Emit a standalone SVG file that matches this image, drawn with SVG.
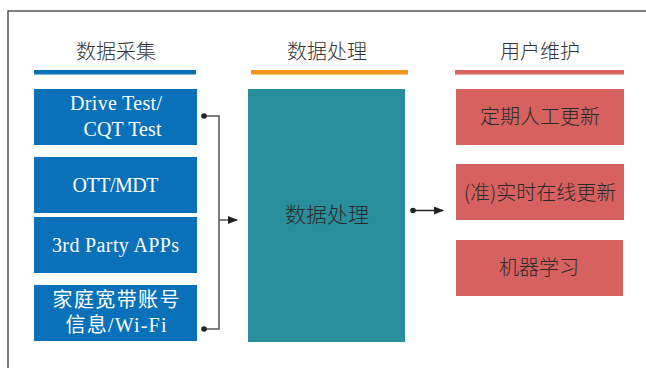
<svg xmlns="http://www.w3.org/2000/svg" width="646" height="368" viewBox="0 0 646 368">
<style>
.hdr{font-family:"Noto Sans CJK SC",sans-serif;font-size:20px;font-weight:300;fill:#333;text-anchor:middle}
.bt{font-family:"Liberation Serif","Noto Sans CJK SC",serif;font-size:20px;fill:#fff;text-anchor:middle}
.ct{font-family:"Liberation Serif","Noto Sans CJK SC",serif;font-size:20px;fill:#fff;text-anchor:middle}
.dt{font-family:"Noto Sans CJK SC",sans-serif;font-size:20px;font-weight:300;fill:#2a2a2a;text-anchor:middle}
.blue{fill:#0871b9}
.red{fill:#d6615f}
.ln{stroke:#555;stroke-width:1.5;fill:none}
.dot{fill:#222}
</style>
<defs>
<marker id="ah" markerWidth="10" markerHeight="8" refX="9" refY="4" orient="auto" markerUnits="userSpaceOnUse">
<path d="M0,0 L10,4 L0,8 Z" fill="#222"/>
</marker>
</defs>
<path d="M8,368 L8,11 L646,11" fill="none" stroke="#555" stroke-width="1.5"/>
<g id="headers">
<text class="hdr" x="116" y="59">数据采集</text>
<rect x="34" y="70" width="162" height="4.5" fill="#0871b9"/>
<text class="hdr" x="327" y="59">数据处理</text>
<rect x="251" y="70" width="157" height="4.5" fill="#f7941d"/>
<text class="hdr" x="540" y="59">用户维护</text>
<rect x="455" y="70" width="169" height="4.5" fill="#d6615f"/>
</g>
<g id="n1"><rect class="blue" x="34" y="89" width="163" height="56"/>
<text class="bt" x="116" y="110" textLength="92" lengthAdjust="spacing">Drive Test/</text>
<text class="bt" x="122.5" y="136" textLength="78" lengthAdjust="spacing">CQT Test</text></g>
<g id="n2"><rect class="blue" x="34" y="157" width="163" height="56"/>
<text class="bt" x="115.5" y="192" textLength="86" lengthAdjust="spacing">OTT/MDT</text></g>
<g id="n3"><rect class="blue" x="34" y="217" width="163" height="56"/>
<text class="bt" x="115.5" y="252" textLength="127" lengthAdjust="spacing">3rd Party APPs</text></g>
<g id="n4"><rect class="blue" x="34" y="285" width="163" height="56"/>
<text class="ct" x="116" y="307" textLength="127" lengthAdjust="spacing">家庭宽带账号</text>
<text class="ct" x="116" y="332" textLength="101" lengthAdjust="spacing">信息/Wi-Fi</text></g>
<g id="n5"><rect x="248" y="89" width="157" height="253" fill="#2a8f9c"/>
<text class="dt" x="327" y="222" style="font-size:21px">数据处理</text></g>
<g id="n6"><rect class="red" x="456" y="89" width="168" height="56"/>
<text class="dt" x="540" y="124">定期人工更新</text></g>
<g id="n7"><rect class="red" x="456" y="164" width="168" height="56"/>
<text class="dt" x="540" y="200">(准)实时在线更新</text></g>
<g id="n8"><rect class="red" x="456" y="240" width="167" height="56"/>
<text class="dt" x="539" y="275">机器学习</text></g>
<g id="connectors">
<path class="ln" d="M204,116 L219,116 L219,329 L204,329"/>
<path class="ln" d="M219,220 L237,220" marker-end="url(#ah)"/>
<circle class="dot" cx="204" cy="116" r="2.8"/>
<circle class="dot" cx="204" cy="329" r="2.8"/>
<path d="M413,210.5 L443,210.5" stroke="#222" stroke-width="1.5" fill="none" marker-end="url(#ah)"/>
<circle class="dot" cx="413" cy="210.5" r="2.8"/>
</g>
</svg>
